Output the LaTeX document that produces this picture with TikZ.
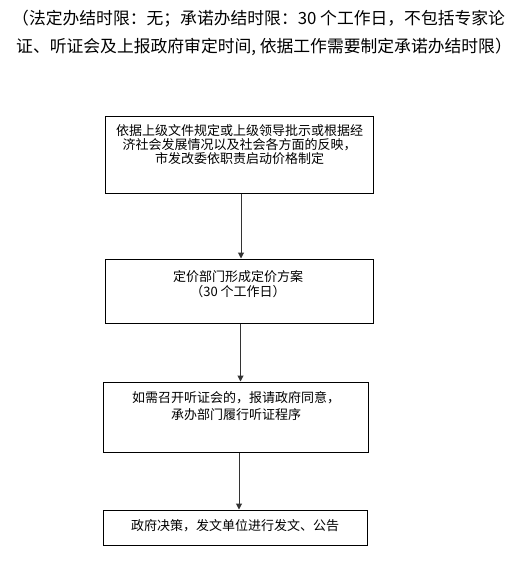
\documentclass[tikz,border=0pt]{standalone}
\usepackage{fontspec}
\setmainfont{Noto Sans CJK SC}
\usetikzlibrary{arrows.meta}
\tikzset{
  box/.style={draw=black, line width=1pt, inner sep=0pt},
  btext/.style={font=\fontsize{13pt}{14pt}\selectfont, align=center, inner sep=0pt},
  ttext/.style={font=\fontsize{16.8pt}{20pt}\selectfont, inner sep=0pt, anchor=west},
  arr/.style={line width=1pt, draw=black!80, -{Triangle[width=6pt,length=6pt]}}
}
\begin{document}
\begin{tikzpicture}[x=1pt,y=-1pt]
\useasboundingbox (0,0) rectangle (516,580);
\node[ttext] (l1) at (12,18.5) {（法定办结时限：无；承诺办结时限：30 个工作日，不包括专家论};
\node[ttext] (l2) at (16,47) {证、听证会及上报政府审定时间, 依据工作需要制定承诺办结时限）};

\node[box, minimum width=268pt, minimum height=76pt] (b1) at (239,155) {};
\node[box, minimum width=268pt, minimum height=64pt] (b2) at (239,291) {};
\node[box, minimum width=265pt, minimum height=70pt] (b3) at (235.5,417) {};
\node[box, minimum width=264pt, minimum height=35pt] (b4) at (235,527.5) {};

\node[btext] (t1) at (239.5,145) {依据上级文件规定或上级领导批示或根据经\\济社会发展情况以及社会各方面的反映，\\市发改委依职责启动价格制定};
\node[btext, font=\fontsize{13pt}{15pt}\selectfont] (t2) at (238,284.5) {定价部门形成定价方案\\（30 个工作日）};
\node[btext, font=\fontsize{13pt}{17pt}\selectfont] (t3) at (236,406.5) {如需召开听证会的，报请政府同意，\\承办部门履行听证程序};
\node[btext] (t4) at (235,526) {政府决策，发文单位进行发文、公告};

\draw[arr] ([xshift=2pt]b1.south) -- ([xshift=2pt]b2.north);
\draw[arr] ([xshift=1.5pt]b2.south) -- ([xshift=1.5pt]b2.south |- b3.north);
\draw[arr] ([xshift=3.5pt]b3.south) -- ([xshift=3.5pt]b3.south |- b4.north);
\end{tikzpicture}
\end{document}
